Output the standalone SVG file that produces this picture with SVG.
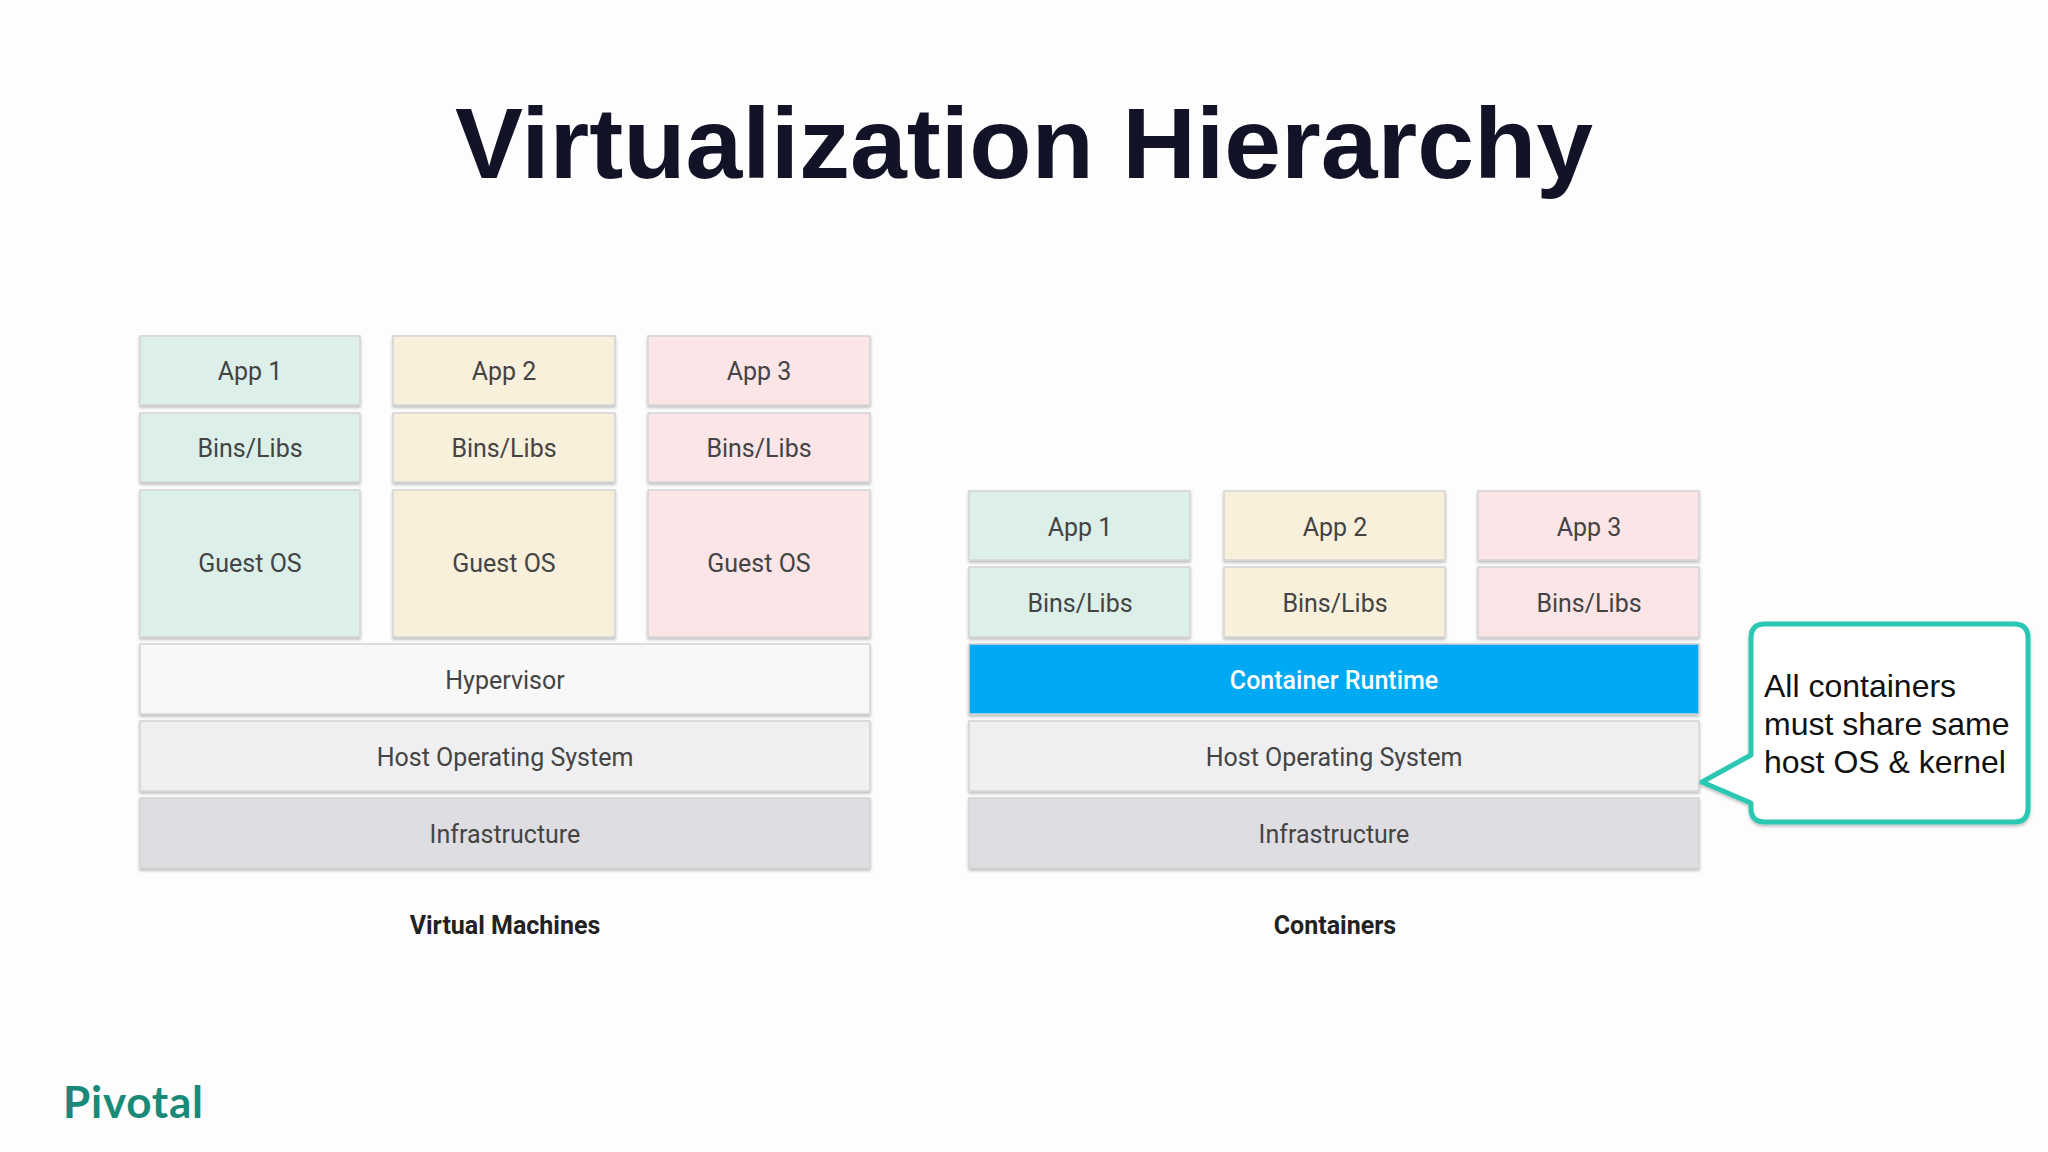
<svg xmlns="http://www.w3.org/2000/svg" width="2048" height="1152" viewBox="0 0 2048 1152">
<defs>
<filter id="sh" x="-5%" y="-5%" width="110%" height="120%"><feDropShadow dx="0" dy="2" stdDeviation="1.5" flood-color="#000" flood-opacity="0.25"/></filter>
</defs>
<style>
.b{stroke:#d4d4d4;stroke-width:1.5;filter:url(#sh)}
.g{fill:#dcefe9}.y{fill:#f8f0da}.p{fill:#fbe5e6}.hv{fill:#f8f8f8}.ho{fill:#efeff1}.in{fill:#dedde1}
.t{font-family:Roboto,"Liberation Sans",sans-serif;font-size:25px;fill:#444;text-anchor:middle;dominant-baseline:central}
.lb{font-family:Roboto,"Liberation Sans",sans-serif;font-size:25px;font-weight:bold;fill:#222;text-anchor:middle}
</style>
<rect width="2048" height="1152" fill="#fdfdfd"/>
<text x="1024" y="178" font-family="Liberation Sans,Arial,sans-serif" font-weight="bold" font-size="100" fill="#131328" text-anchor="middle" textLength="1138" lengthAdjust="spacingAndGlyphs">Virtualization Hierarchy</text>
<g id="vm">
<g id="vm-app1"><rect class="b g" x="140" y="336" width="220" height="69"/><text class="t" x="250" y="371">App 1</text></g>
<g id="vm-app2"><rect class="b y" x="393" y="336" width="222" height="69"/><text class="t" x="504" y="371">App 2</text></g>
<g id="vm-app3"><rect class="b p" x="648" y="336" width="222" height="69"/><text class="t" x="759" y="371">App 3</text></g>
<g id="vm-bins1"><rect class="b g" x="140" y="413" width="220" height="69"/><text class="t" x="250" y="448">Bins/Libs</text></g>
<g id="vm-bins2"><rect class="b y" x="393" y="413" width="222" height="69"/><text class="t" x="504" y="448">Bins/Libs</text></g>
<g id="vm-bins3"><rect class="b p" x="648" y="413" width="222" height="69"/><text class="t" x="759" y="448">Bins/Libs</text></g>
<g id="vm-os1"><rect class="b g" x="140" y="490" width="220" height="147"/><text class="t" x="250" y="563">Guest OS</text></g>
<g id="vm-os2"><rect class="b y" x="393" y="490" width="222" height="147"/><text class="t" x="504" y="563">Guest OS</text></g>
<g id="vm-os3"><rect class="b p" x="648" y="490" width="222" height="147"/><text class="t" x="759" y="563">Guest OS</text></g>
<g id="vm-hyp"><rect class="b hv" x="140" y="644" width="730" height="70"/><text class="t" x="505" y="680">Hypervisor</text></g>
<g id="vm-host"><rect class="b ho" x="140" y="721" width="730" height="70"/><text class="t" x="505" y="757">Host Operating System</text></g>
<g id="vm-infra"><rect class="b in" x="140" y="798" width="730" height="70"/><text class="t" x="505" y="834">Infrastructure</text></g>
<text class="lb" x="505" y="934">Virtual Machines</text>
</g>
<g id="ct">
<g id="ct-app1"><rect class="b g" x="969" y="491" width="221" height="69"/><text class="t" x="1080" y="527">App 1</text></g>
<g id="ct-app2"><rect class="b y" x="1224" y="491" width="221" height="69"/><text class="t" x="1335" y="527">App 2</text></g>
<g id="ct-app3"><rect class="b p" x="1478" y="491" width="221" height="69"/><text class="t" x="1589" y="527">App 3</text></g>
<g id="ct-bins1"><rect class="b g" x="969" y="567" width="221" height="70"/><text class="t" x="1080" y="603">Bins/Libs</text></g>
<g id="ct-bins2"><rect class="b y" x="1224" y="567" width="221" height="70"/><text class="t" x="1335" y="603">Bins/Libs</text></g>
<g id="ct-bins3"><rect class="b p" x="1478" y="567" width="221" height="70"/><text class="t" x="1589" y="603">Bins/Libs</text></g>
<g id="ct-runtime"><rect class="b" x="969" y="644" width="730" height="70" fill="#03a9f4"/><text class="t" x="1334" y="680" style="fill:#fff;font-weight:500">Container Runtime</text></g>
<g id="ct-host"><rect class="b ho" x="969" y="721" width="730" height="70"/><text class="t" x="1334" y="757">Host Operating System</text></g>
<g id="ct-infra"><rect class="b in" x="969" y="798" width="730" height="70"/><text class="t" x="1334" y="834">Infrastructure</text></g>
<text class="lb" x="1335" y="934">Containers</text>
</g>
<g id="callout">
<path d="M1765,624 H2014 Q2028,624 2028,638 V808 Q2028,822 2014,822 H1765 Q1751,822 1751,808 V803 L1702,782 L1751,755 V638 Q1751,624 1765,624 Z" fill="#fff" stroke="#2cc7b2" stroke-width="5" stroke-linejoin="round" filter="url(#sh)"/>
<g font-family="Liberation Sans,Arial,sans-serif" font-size="32" fill="#111">
<text x="1764" y="697">All containers</text>
<text x="1764" y="735">must share same</text>
<text x="1764" y="773">host OS &amp; kernel</text>
</g>
</g>
<text x="63" y="1118" font-family="Lato,'Liberation Sans',sans-serif" font-size="44" font-weight="bold" fill="#1a8a78" textLength="140">Pivotal</text>
</svg>
